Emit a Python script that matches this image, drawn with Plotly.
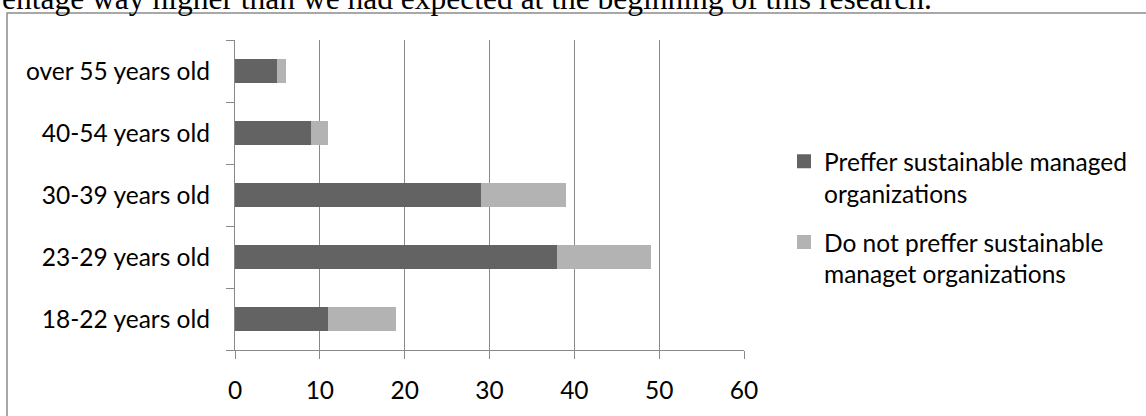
import plotly.graph_objects as go

# Survey data: age groups and counts of respondents by preference
age_groups = ["18-22 years old", "23-29 years old", "30-39 years old",
              "40-54 years old", "over 55 years old"]
prefer_sustainable = [11, 38, 29, 9, 5]
not_prefer_sustainable = [8, 11, 10, 2, 1]
series_names = ["Preffer sustainable managed<br>organizations",
                "Do not preffer sustainable<br>managet organizations"]
x_ticks = [0, 10, 20, 30, 40, 50, 60]

W, H = 1146, 416
ML, MR, MT, MB = 235, 402, 40, 56
PW, PH = W - ML - MR, H - MT - MB

DARK = "#636363"
LIGHT = "#b3b3b3"
GRID = "#898989"
FONT = "Lato"
FS = 24.5


def px_to_paper_x(px):
    return (px - ML) / PW


def px_to_paper_y(py):
    return 1 + (MT - py) / PH


fig = go.Figure()
for vals, name, color in zip([prefer_sustainable, not_prefer_sustainable],
                             series_names, [DARK, LIGHT]):
    fig.add_trace(go.Bar(
        y=age_groups, x=vals, orientation="h", name=name,
        marker=dict(color=color, line=dict(width=0)),
        showlegend=False, legendgroup=name,
    ))
    # legend entry with a larger square swatch
    fig.add_trace(go.Scatter(
        x=[None], y=[None], mode="markers", name=name,
        marker=dict(symbol="square", size=14, color=color),
        legendgroup=name, showlegend=True,
    ))

fig.update_layout(
    width=W, height=H,
    margin=dict(l=ML, r=MR, t=MT, b=MB, pad=0),
    paper_bgcolor="white", plot_bgcolor="white",
    barmode="stack", bargap=0.6,
    font=dict(family=FONT, size=FS, color="#000000"),
    showlegend=True,
    legend=dict(
        x=px_to_paper_x(784), y=px_to_paper_y(142),
        xanchor="left", yanchor="top", valign="top",
        traceorder="grouped", tracegroupgap=14,
        font=dict(family=FONT, size=FS, color="#000000"),
        itemwidth=30, bgcolor="rgba(0,0,0,0)",
    ),
    xaxis=dict(
        range=[0, 60], tickvals=x_ticks, ticktext=[str(v) for v in x_ticks],
        showgrid=True, gridcolor=GRID, gridwidth=1.3,
        showline=True, linecolor=GRID, linewidth=1.3,
        ticks="outside", ticklen=8, tickcolor=GRID, tickwidth=1.3,
        ticklabelstandoff=10,
        zeroline=False, fixedrange=True,
    ),
    yaxis=dict(
        type="category", categoryorder="array", categoryarray=age_groups,
        showgrid=False, showline=True, linecolor=GRID, linewidth=1.3,
        ticks="outside", ticklen=8, tickcolor=GRID, tickwidth=1.3,
        tickson="boundaries", ticklabelstandoff=19,
        zeroline=False, fixedrange=True,
    ),
    shapes=[
        # chart frame, extending past the right and bottom of the page
        dict(type="rect", xref="paper", yref="paper",
             x0=px_to_paper_x(7), x1=px_to_paper_x(W + 20),
             y0=px_to_paper_y(H + 20), y1=px_to_paper_y(12),
             line=dict(color="#8c8c8c", width=1.5), fillcolor="rgba(0,0,0,0)",
             layer="below"),
    ],
    annotations=[
        dict(text="entage way higher than we had expected at the beginning of this research.",
             xref="paper", yref="paper",
             x=px_to_paper_x(0), y=px_to_paper_y(17.5),
             xanchor="left", yanchor="bottom", showarrow=False,
             font=dict(family="Liberation Serif", size=31.5, color="#000000")),
    ],
)

fig.write_html("out.html")
